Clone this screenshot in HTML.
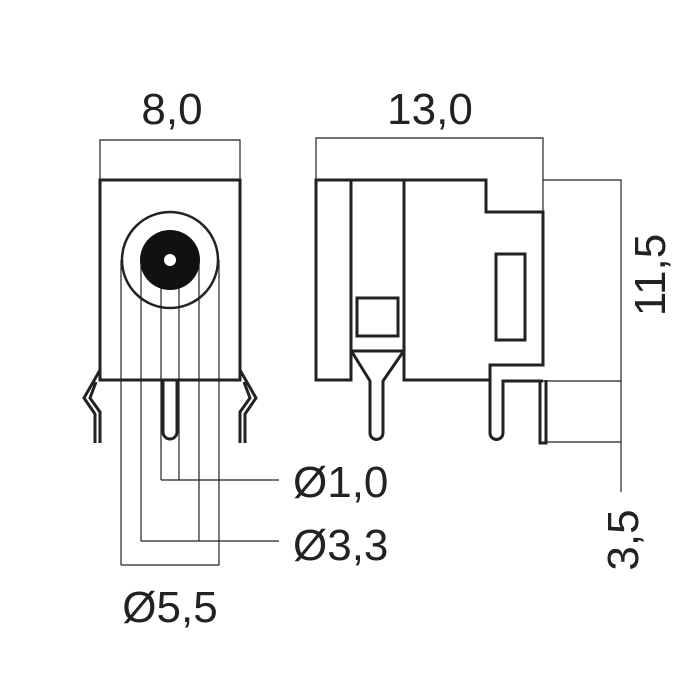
<!DOCTYPE html>
<html><head><style>body{margin:0;background:#fff}svg{display:block}text{font-family:"Liberation Sans",sans-serif;fill:#222}</style></head>
<body>
<svg width="700" height="700" viewBox="0 0 700 700" xmlns="http://www.w3.org/2000/svg">
<g fill="none" stroke="#222">
<g stroke-width="1.2">
<polyline points="100,180 100,140 240,140 240,180"/>
<line x1="121" y1="260" x2="121" y2="565"/><line x1="219" y1="260" x2="219" y2="565"/>
<line x1="121" y1="565" x2="219" y2="565"/>
<line x1="141" y1="260" x2="141" y2="541"/><line x1="199" y1="260" x2="199" y2="541"/>
<line x1="141" y1="541" x2="279" y2="541"/>
<line x1="161" y1="260" x2="161" y2="480"/><line x1="179" y1="260" x2="179" y2="480"/>
<line x1="161" y1="480" x2="279" y2="480"/>
<polyline points="316,180 316,138 543,138 543,212"/>
<polyline points="543,180 621,180 621,492"/>
<line x1="543" y1="381" x2="621" y2="381"/>
<line x1="545" y1="442" x2="621" y2="442"/>
</g>
<g stroke-width="3">
<rect x="100" y="180" width="140" height="200" fill="none"/>
<circle cx="170" cy="260" r="48" stroke-width="2.5"/>
<path d="M163,381 V432 A7,7 0 0 0 177,432 V381"/>
<path d="M100,370 L84,398 L95,414 V443 M96,382 L90,398 L100,412 V443"/>
<path d="M240,370 L256,398 L245,414 V443 M244,382 L250,398 L240,412 V443"/>
<path d="M316,180 H486 V212 H543 V365 H490 V380 H404 V351 H351 V380 H316 Z"/>
<line x1="351" y1="180" x2="351" y2="351"/><line x1="404" y1="180" x2="404" y2="351"/>
<rect x="357" y="298" width="41" height="38"/>
<rect x="496" y="254" width="29" height="86"/>
<path d="M352,352 L370,381 V433 A6.5,6.5 0 0 0 383,433 V381 L403,352"/>
<path d="M490,380 V433 A6.5,6.5 0 0 0 503,433 V381 H543"/>
<path d="M540,380 V443 H546 V380"/>
</g>
</g>
<circle cx="170" cy="260" r="30" fill="#111"/>
<circle cx="170" cy="260" r="6" fill="#fff"/>
<g font-size="44">
<text x="172" y="124" text-anchor="middle">8,0</text>
<text x="430" y="124" text-anchor="middle">13,0</text>
<text x="293" y="497">Ø1,0</text>
<text x="293" y="560">Ø3,3</text>
<text x="170" y="622" text-anchor="middle">Ø5,5</text>
<text transform="translate(665,275) rotate(-90)" text-anchor="middle">11,5</text>
<text transform="translate(638,540) rotate(-90)" text-anchor="middle">3,5</text>
</g>
</svg>
</body></html>
